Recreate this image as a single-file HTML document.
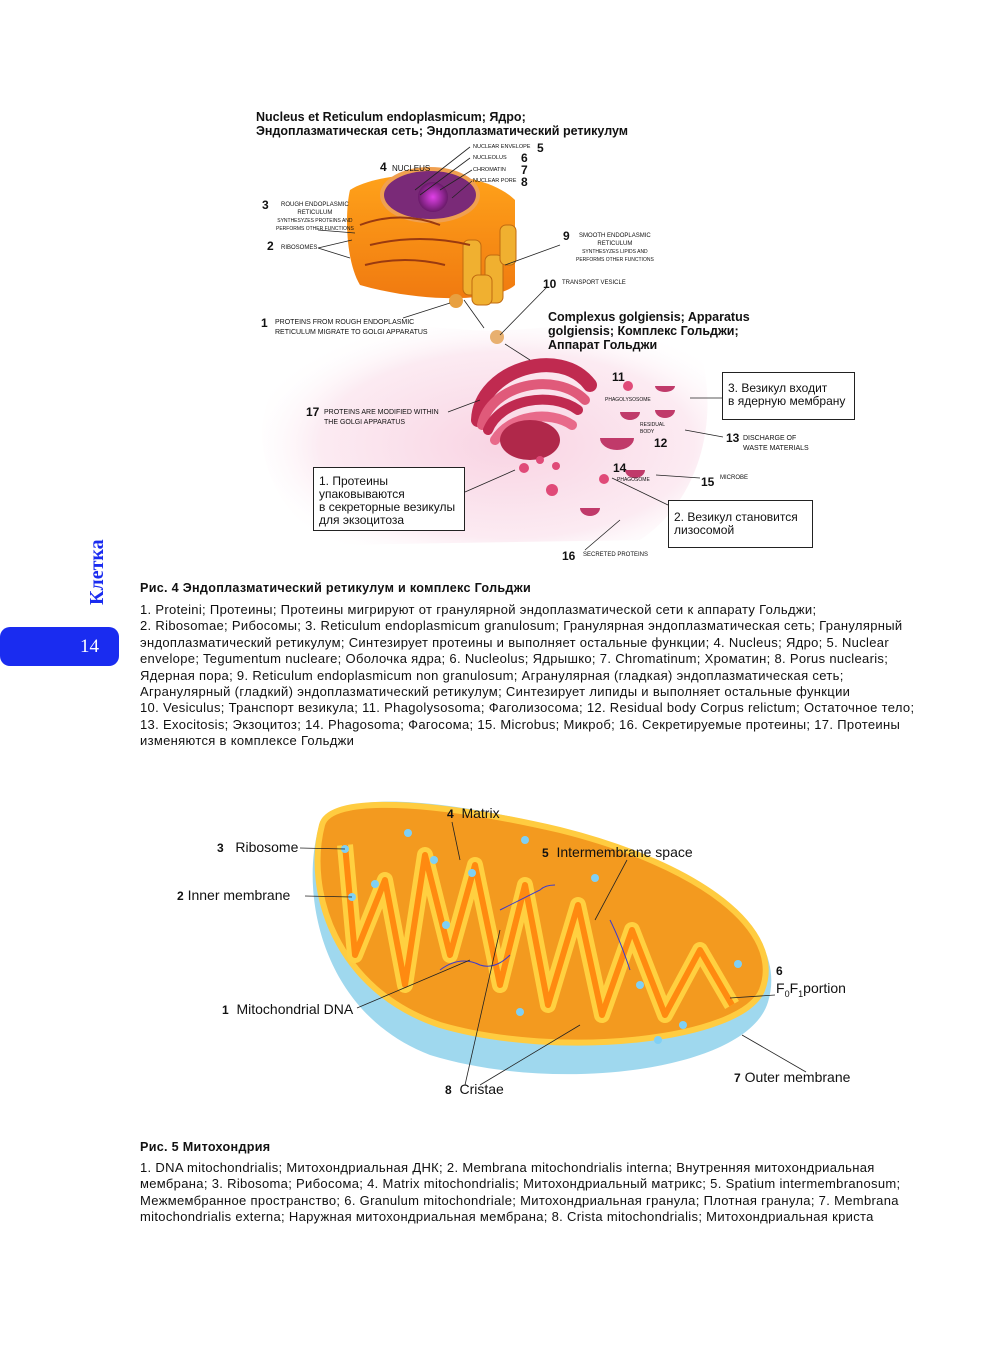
<!DOCTYPE html>
<html><head><meta charset="utf-8"><style>
body{margin:0;background:#fff;}
#p{position:relative;width:1000px;height:1349px;overflow:hidden;font-family:"Liberation Sans","Noto Sans CJK SC",sans-serif;color:#111;}
.t{position:absolute;white-space:nowrap;}
.b{font-weight:bold;}
.s{font-size:6px;}
.n{font-weight:bold;font-size:12px;}
.box{position:absolute;border:1px solid #222;background:#fff;font-size:12px;line-height:13px;padding:3px 5px;box-sizing:border-box;}
.para{position:absolute;left:140px;font-size:13px;letter-spacing:0.32px;line-height:16.4px;white-space:nowrap;}
</style></head><body><div id="p">
<svg width="1000" height="1349" style="position:absolute;left:0;top:0">
<defs>
<radialGradient id="pk" cx="0.55" cy="0.55" r="0.6"><stop offset="0" stop-color="#f7c9dc"/><stop offset="0.7" stop-color="#fbe6ef"/><stop offset="1" stop-color="#fff" stop-opacity="0"/></radialGradient>
<radialGradient id="nu" cx="0.5" cy="0.5" r="0.5"><stop offset="0" stop-color="#e040e8"/><stop offset="1" stop-color="#6a1a6a"/></radialGradient>
<linearGradient id="or" x1="0" y1="0" x2="0" y2="1"><stop offset="0" stop-color="#ffa21a"/><stop offset="1" stop-color="#f07a10"/></linearGradient>
</defs>
<path d="M262 430 C270 330 360 320 470 330 C560 335 640 300 700 350 C720 420 700 500 640 540 L330 545 C290 520 262 480 262 430Z" fill="url(#pk)" opacity="0.8"/>
<path d="M350 190 C380 170 480 165 515 200 L515 285 C500 300 430 305 360 285 C345 260 345 210 350 190Z" fill="url(#or)"/>
<ellipse cx="430" cy="195" rx="48" ry="26" fill="#7a2a78" stroke="#f0a050" stroke-width="4"/>
<circle cx="433" cy="197" r="15" fill="url(#nu)"/>
<g fill="#f0b030" stroke="#c06a10"><rect x="463" y="240" width="18" height="55" rx="6"/><rect x="485" y="255" width="18" height="48" rx="6"/><rect x="500" y="225" width="16" height="40" rx="6"/><rect x="472" y="275" width="20" height="30" rx="6"/></g>
<g stroke="#9a3a10" stroke-width="2" fill="none"><path d="M360 225 q40 -15 80 0"/><path d="M370 245 q50 -12 100 0"/><path d="M365 265 q40 -10 80 0"/></g>
<circle cx="456" cy="301" r="7" fill="#e8a040"/>
<circle cx="497" cy="337" r="7" fill="#e8b070"/>
<g fill="none" stroke-linecap="round">
<path d="M478 420 C480 370 560 345 590 385" stroke="#c02a50" stroke-width="14"/>
<path d="M482 425 C490 385 555 370 585 400" stroke="#e05a7a" stroke-width="10"/>
<path d="M488 430 C500 400 550 390 578 410" stroke="#c02a50" stroke-width="10"/>
<path d="M495 440 C510 415 550 410 572 425" stroke="#e86a8a" stroke-width="10"/>
</g>
<ellipse cx="530" cy="440" rx="30" ry="20" fill="#b0284a"/>
<g fill="#e04a78"><circle cx="524" cy="468" r="5"/><circle cx="552" cy="490" r="6"/><circle cx="604" cy="479" r="5"/><circle cx="628" cy="386" r="5"/><circle cx="540" cy="460" r="4"/><circle cx="556" cy="466" r="4"/></g>
<g fill="#c03a6a"><path d="M655 386 a10 6 0 0 0 20 0z"/><path d="M620 412 a10 8 0 0 0 20 0z"/><path d="M655 410 a10 8 0 0 0 20 0z"/><path d="M600 438 a17 12 0 0 0 34 0z"/><path d="M625 470 a10 8 0 0 0 20 0z"/><path d="M580 508 a10 8 0 0 0 20 0z"/></g>
<g stroke="#222" stroke-width="0.8" fill="none">
<line x1="470" y1="147" x2="415" y2="190"/><line x1="470" y1="158" x2="420" y2="195"/><line x1="472" y1="170" x2="440" y2="190"/><line x1="472" y1="181" x2="452" y2="198"/>
<line x1="318" y1="230" x2="355" y2="233"/><line x1="318" y1="248" x2="352" y2="240"/><line x1="318" y1="248" x2="350" y2="258"/>
<line x1="560" y1="245" x2="505" y2="265"/><line x1="547" y1="287" x2="500" y2="335"/>
<line x1="403" y1="318" x2="450" y2="303"/>
<line x1="448" y1="412" x2="480" y2="400"/>
<line x1="465" y1="492" x2="515" y2="470"/>
<line x1="612" y1="478" x2="668" y2="505"/>
<line x1="656" y1="475" x2="700" y2="478"/><line x1="685" y1="430" x2="723" y2="437"/><line x1="690" y1="398" x2="723" y2="398"/>
<line x1="620" y1="520" x2="585" y2="550"/>
<line x1="464" y1="300" x2="484" y2="328"/><line x1="505" y1="344" x2="530" y2="360"/>
</g>
<path d="M318 830 C325 790 430 795 560 828 C700 862 790 930 768 1002 C748 1070 560 1095 430 1055 C325 1015 300 900 318 830Z" fill="#9fd8ee"/>
<path d="M322 825 C330 795 430 800 560 830 C700 865 785 930 762 990 C742 1040 560 1060 440 1025 C335 990 305 890 322 825Z" fill="#f39a1f" stroke="#ffcc40" stroke-width="6"/>
<path d="M345 845 L355 955 L385 880 L405 985 L425 855 L450 955 L475 865 L500 985 L525 885 L548 1005 L578 905 L602 1015 L632 930 L665 1015 L700 950 L732 1005" fill="none" stroke="#ffd040" stroke-width="16" stroke-linejoin="round"/>
<path d="M345 845 L355 955 L385 880 L405 985 L425 855 L450 955 L475 865 L500 985 L525 885 L548 1005 L578 905 L602 1015 L632 930 L665 1015 L700 950 L732 1005" fill="none" stroke="#ff8a10" stroke-width="6" stroke-linejoin="round"/>
<g fill="#7fd0f5"><circle cx="345" cy="849" r="4"/><circle cx="352" cy="897" r="4"/><circle cx="408" cy="833" r="4"/><circle cx="434" cy="860" r="4"/><circle cx="472" cy="873" r="4"/><circle cx="375" cy="884" r="4"/><circle cx="446" cy="925" r="4"/><circle cx="525" cy="840" r="4"/><circle cx="595" cy="878" r="4"/><circle cx="640" cy="985" r="4"/><circle cx="738" cy="964" r="4"/><circle cx="683" cy="1025" r="4"/><circle cx="520" cy="1012" r="4"/><circle cx="658" cy="1040" r="4"/></g>
<g stroke="#3a3ad0" stroke-width="1" fill="none"><path d="M440 970 q20 -15 40 -5 q15 5 30 -10"/><path d="M500 910 q20 -10 40 -20 q5 -5 15 -5"/><path d="M610 920 q10 20 20 50"/></g>
<g stroke="#222" stroke-width="0.8" fill="none">
<line x1="300" y1="848" x2="345" y2="849"/><line x1="305" y1="896" x2="352" y2="897"/><line x1="452" y1="822" x2="460" y2="860"/><line x1="627" y1="860" x2="595" y2="920"/>
<line x1="357" y1="1008" x2="470" y2="960"/><line x1="465" y1="1085" x2="500" y2="930"/><line x1="480" y1="1085" x2="580" y2="1025"/>
<line x1="742" y1="1035" x2="806" y2="1072"/><line x1="775" y1="995" x2="730" y2="998"/>
</g>
<rect x="0" y="627" width="119" height="39" rx="10" fill="#1a2cf0"/>
</svg>
<div class="t" style="left:86px;top:605px;transform:rotate(-90deg);transform-origin:0 0;font-family:'Liberation Serif',serif;font-weight:bold;font-size:20px;color:#1a2cf0">Клетка</div>
<div class="t" style="left:80px;top:636px;font-family:'Liberation Serif',serif;font-size:19px;color:#fff">14</div>

<div class="t b" style="left:256px;top:110px;font-size:12.5px;line-height:14px">Nucleus et Reticulum endoplasmicum; Ядро;<br>Эндоплазматическая сеть; Эндоплазматический ретикулум</div>
<div class="t s" style="left:473px;top:144px;font-size:5.5px">NUCLEAR ENVELOPE</div><div class="t n" style="left:537px;top:141px">5</div>
<div class="t s" style="left:473px;top:155px;font-size:5.5px">NUCLEOLUS</div><div class="t n" style="left:521px;top:151px">6</div>
<div class="t s" style="left:473px;top:167px;font-size:5.5px">CHROMATIN</div><div class="t n" style="left:521px;top:163px">7</div>
<div class="t s" style="left:473px;top:178px;font-size:5.5px">NUCLEAR PORE</div><div class="t n" style="left:521px;top:175px">8</div>
<div class="t n" style="left:380px;top:160px">4</div><div class="t" style="left:392px;top:164px;font-size:8px">NUCLEUS</div>
<div class="t n" style="left:262px;top:198px">3</div><div class="t s" style="left:276px;top:201px;text-align:center;line-height:8px">ROUGH ENDOPLASMIC<br>RETICULUM<br><span style="font-size:5px">SYNTHESYZES PROTEINS AND<br>PERFORMS OTHER FUNCTIONS</span></div>
<div class="t n" style="left:267px;top:239px">2</div><div class="t s" style="left:281px;top:245px">RIBOSOMES</div>
<div class="t n" style="left:563px;top:229px">9</div><div class="t s" style="left:576px;top:232px;text-align:center;line-height:8px">SMOOTH ENDOPLASMIC<br>RETICULUM<br><span style="font-size:5px">SYNTHESYZES LIPIDS AND<br>PERFORMS OTHER FUNCTIONS</span></div>
<div class="t n" style="left:543px;top:277px">10</div><div class="t s" style="left:562px;top:280px">TRANSPORT VESICLE</div>
<div class="t n" style="left:261px;top:316px">1</div><div class="t s" style="left:275px;top:318px;line-height:10px;font-size:7px">PROTEINS FROM ROUGH ENDOPLASMIC<br>RETICULUM MIGRATE TO GOLGI APPARATUS</div>
<div class="t b" style="left:548px;top:310px;font-size:12.5px;line-height:14px">Complexus golgiensis; Apparatus<br>golgiensis; Комплекс Гольджи;<br>Аппарат Гольджи</div>
<div class="t n" style="left:612px;top:370px">11</div><div class="t" style="left:605px;top:397px;font-size:5px">PHAGOLYSOSOME</div>
<div class="t" style="left:640px;top:422px;font-size:5px;line-height:7px">RESIDUAL<br>BODY</div><div class="t n" style="left:654px;top:436px">12</div>
<div class="t n" style="left:306px;top:405px">17</div><div class="t s" style="left:324px;top:408px;line-height:10px;font-size:7px">PROTEINS ARE MODIFIED WITHIN<br>THE GOLGI APPARATUS</div>
<div class="t n" style="left:726px;top:431px">13</div><div class="t s" style="left:743px;top:434px;line-height:10px;font-size:7px">DISCHARGE OF<br>WASTE MATERIALS</div>
<div class="t n" style="left:613px;top:461px">14</div><div class="t" style="left:617px;top:477px;font-size:5px">PHAGOSOME</div>
<div class="t n" style="left:701px;top:475px">15</div><div class="t s" style="left:720px;top:475px">MICROBE</div>
<div class="t n" style="left:562px;top:549px">16</div><div class="t s" style="left:583px;top:552px">SECRETED PROTEINS</div>
<div class="box" style="left:722px;top:372px;width:133px;height:48px;padding-top:9px">3. Везикул входит<br>в ядерную мембрану</div>
<div class="box" style="left:313px;top:467px;width:152px;height:64px;padding-top:7px">1. Протеины<br>упаковываются<br>в секреторные везикулы<br>для экзоцитоза</div>
<div class="box" style="left:668px;top:500px;width:145px;height:48px;padding-top:10px">2. Везикул становится<br>лизосомой</div>

<div class="t b" style="left:140px;top:581px;font-size:12.6px;letter-spacing:0.3px">Рис. 4 Эндоплазматический ретикулум и комплекс Гольджи</div>
<div class="para" style="top:602px">1. Proteini; Протеины; Протеины мигрируют от гранулярной эндоплазматической сети к аппарату Гольджи;<br>2. Ribosomae; Рибосомы; 3. Reticulum endoplasmicum granulosum; Гранулярная эндоплазматическая сеть; Гранулярный<br>эндоплазматический ретикулум; Синтезирует протеины и выполняет остальные функции; 4. Nucleus; Ядро; 5. Nuclear<br>envelope; Tegumentum nucleare; Оболочка ядра; 6. Nucleolus; Ядрышко; 7. Chromatinum; Хроматин; 8. Porus nuclearis;<br>Ядерная пора; 9. Reticulum endoplasmicum non granulosum; Агранулярная (гладкая) эндоплазматическая сеть;<br>Агранулярный (гладкий) эндоплазматический ретикулум; Синтезирует липиды и выполняет остальные функции<br>10. Vesiculus; Транспорт везикула; 11. Phagolysosoma; Фаголизосома; 12. Residual body Corpus relictum; Остаточное тело;<br>13. Exocitosis; Экзоцитоз; 14. Phagosoma; Фагосома; 15. Microbus; Микроб; 16. Секретируемые протеины; 17. Протеины<br>изменяются в комплексе Гольджи</div>

<div class="t" style="left:447px;top:805px;font-size:14px"><b style="font-size:12px">4</b>&nbsp; Matrix</div>
<div class="t" style="left:217px;top:839px;font-size:14px"><b style="font-size:12px">3</b>&nbsp;&nbsp; Ribosome</div>
<div class="t" style="left:542px;top:844px;font-size:14px"><b style="font-size:12px">5</b>&nbsp;&nbsp;Intermembrane space</div>
<div class="t" style="left:177px;top:887px;font-size:14px"><b style="font-size:12px">2</b> Inner membrane</div>
<div class="t" style="left:222px;top:1001px;font-size:14px"><b style="font-size:12px">1</b>&nbsp; Mitochondrial DNA</div>
<div class="t" style="left:776px;top:964px;font-size:12px"><b>6</b></div>
<div class="t" style="left:776px;top:980px;font-size:14px">F<sub style="font-size:9px">0</sub>F<sub style="font-size:9px">1</sub>portion</div>
<div class="t" style="left:734px;top:1069px;font-size:14px"><b style="font-size:12px">7</b> Outer membrane</div>
<div class="t" style="left:445px;top:1081px;font-size:14px"><b style="font-size:12px">8</b>&nbsp; Cristae</div>

<div class="t b" style="left:140px;top:1140px;font-size:12.6px;letter-spacing:0.3px">Рис. 5 Митохондрия</div>
<div class="para" style="top:1160px">1. DNA mitochondrialis; Митохондриальная ДНК; 2. Membrana mitochondrialis interna; Внутренняя митохондриальная<br>мембрана; 3. Ribosoma; Рибосома; 4. Matrix mitochondrialis; Митохондриальный матрикс; 5. Spatium intermembranosum;<br>Межмембранное пространство; 6. Granulum mitochondriale; Митохондриальная гранула; Плотная гранула; 7. Membrana<br>mitochondrialis externa; Наружная митохондриальная мембрана; 8. Crista mitochondrialis; Митохондриальная криста</div>
</div></body></html>
